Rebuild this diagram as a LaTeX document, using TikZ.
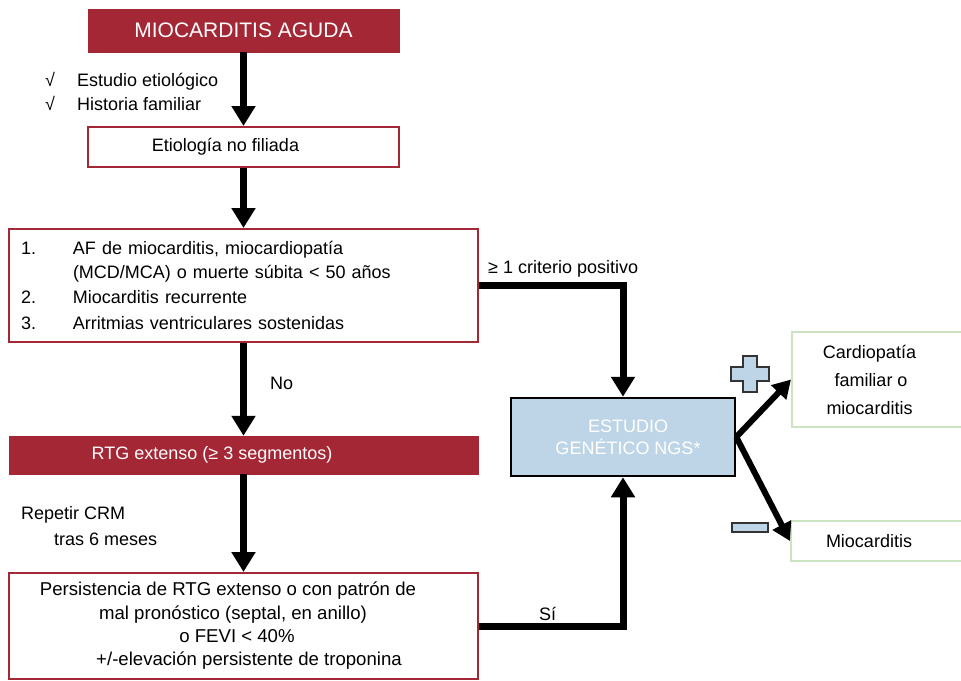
\documentclass[tikz,border=0pt]{standalone}
\usepackage{fontspec}
\setmainfont{Liberation Sans}
\usetikzlibrary{arrows.meta}
\definecolor{rojo}{HTML}{A32735}
\definecolor{azul}{HTML}{BDD5E6}
\definecolor{verde}{HTML}{CCE5C0}
\tikzset{
  redfill/.style={fill=rojo, draw=rojo, text=white, inner sep=0pt},
  redbox/.style={draw=rojo, line width=2pt, fill=white, inner sep=0pt},
  greenbox/.style={draw=verde, line width=2pt, fill=white, inner sep=0pt},
  genbox/.style={draw=black, line width=2.5pt, fill=azul, text=white, inner sep=0pt},
  flow/.style={line width=7pt, -{Triangle[width=23pt,length=20pt]}},
  diag/.style={line width=6pt, -{Triangle[width=20pt,length=18pt]}},
  lbl/.style={anchor=base west, inner sep=0pt},
  sign/.style={fill=azul, draw=black!80, line width=1.2pt},
}
\begin{document}
\begin{tikzpicture}[x=1pt,y=-1pt, font=\fontsize{18}{22}\selectfont]
\useasboundingbox (0,0) rectangle (961,680);
\clip (0,0) rectangle (961,680);
\fill[white] (0,0) rectangle (961,680);

% boxes
\node[redfill, minimum width=311pt, minimum height=43pt, font=\fontsize{21}{24}\selectfont] (mio) at (243.5,30.5) {MIOCARDITIS AGUDA};
\node[redbox, minimum width=311pt, minimum height=40pt] (eti) at (243.5,147) {\hspace*{-36pt}\raisebox{-2pt}{Etiología no filiada}};
\node[redbox, text width=445pt, inner xsep=12pt, inner ysep=0pt, minimum height=113pt, align=left, font=\fontsize{18}{24}\selectfont] (list) at (243.5,285.5)
  {\makebox[52pt][l]{1.}AF de miocarditis, miocardiopatía\\
   \hspace*{52pt}(MCD/MCA) o muerte súbita < 50 años\\[1pt]
   \makebox[52pt][l]{2.}Miocarditis recurrente\\[2pt]
   \makebox[52pt][l]{3.}Arritmias ventriculares sostenidas};
\node[redfill, minimum width=469pt, minimum height=38pt] (rtg) at (243.5,455) {\hspace*{-63pt}\raisebox{-2pt}{RTG extenso (≥ 3 segmentos)}};
\node[redbox, minimum width=469pt, minimum height=106pt, align=center, font=\fontsize{18.6}{23.3}\selectfont] (per) at (243.5,626)
  {\hspace*{-31pt}Persistencia de RTG extenso o con patrón de\\
   \hspace*{-21pt}mal pronóstico (septal, en anillo)\\
   \hspace*{-13pt}o FEVI < 40\%\\
   \hspace*{11pt}+/-elevación persistente de troponina};
\node[genbox, minimum width=224pt, minimum height=78pt, align=center, font=\fontsize{18}{22}\selectfont] (gen) at (623,437)
  {\hspace*{10pt}ESTUDIO\\\hspace*{10pt}GENÉTICO NGS*};
\node[greenbox, minimum width=200pt, minimum height=95pt, align=center, font=\fontsize{18}{28}\selectfont] (card) at (892,379.5)
  {\hspace*{-45pt}Cardiopatía\\\hspace*{-42pt}familiar o\\\hspace*{-45pt}miocarditis};
\node[greenbox, minimum width=200pt, minimum height=40pt] (mioc) at (891,541) {\hspace*{-44pt}\raisebox{-2pt}{Miocarditis}};

% plus and minus signs
\draw[sign] (743,356) -- (757,356) -- (757,367) -- (769,367) -- (769,381) -- (757,381) -- (757,392) -- (743,392) -- (743,381) -- (731,381) -- (731,367) -- (743,367) -- cycle;
\draw[sign] (732,523) rectangle (768,532);

% labels
\node[lbl] (c1) at (45,86) {\makebox[32pt][l]{√}Estudio etiológico};
\node[lbl] (c2) at (45,110) {\makebox[32pt][l]{√}Historia familiar};
\node[lbl] (crit) at (488,273) {≥ 1 criterio positivo};
\node[lbl] (no) at (270,389) {No};
\node[lbl] (rep1) at (21,519) {Repetir CRM};
\node[lbl] (rep2) at (54,545) {tras 6 meses};
\node[lbl] (si) at (539,620) {Sí};

% connectors
\draw[flow] (mio.south) -- (eti.north);
\draw[flow] (eti.south) -- (list.north);
\draw[flow] (list.south) -- (rtg.north);
\draw[flow] (rtg.south) -- (per.north);
\draw[flow] (list.east) -| (gen.north);
\draw[flow] (per.east) -| (gen.south);
\draw[diag] (gen.east) -- (card.west);
\draw[diag] (gen.east) -- (mioc.west);
\end{tikzpicture}
\end{document}
